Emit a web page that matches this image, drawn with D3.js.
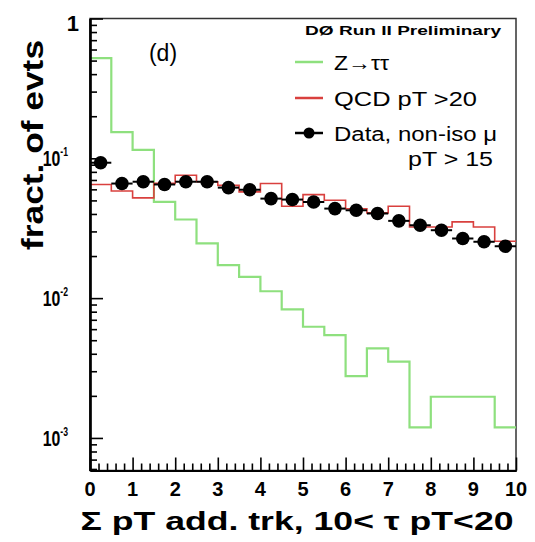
<!DOCTYPE html>
<html><head><meta charset="utf-8">
<script src="https://cdn.jsdelivr.net/npm/d3@7/dist/d3.min.js"></script>
<style>body{margin:0;background:#fff}svg{display:block}text{font-family:"Liberation Sans",Arial,sans-serif;font-weight:bold}</style>
</head><body>
<svg id="c" width="535" height="542"></svg>
<script>
const binEdges = [0,0.5,1,1.5,2,2.5,3,3.5,4,4.5,5,5.5,6,6.5,7,7.5,8,8.5,9,9.5,10];
const zttValues = [0.521,0.154,0.115,0.0488,0.0365,0.0246,0.0172,0.0142,0.0112,0.0083,0.00624,0.00544,0.00277,0.00437,0.00351,0.00119,0.00197,0.00197,0.00197,0.00119];
const qcdValues = [0.065,0.0584,0.0521,0.0662,0.0756,0.068,0.064,0.0575,0.066,0.0454,0.055,0.0501,0.0436,0.0407,0.0454,0.0323,0.0323,0.0351,0.0323,0.0255];
const dataValues = [0.093,0.066,0.068,0.065,0.068,0.068,0.0617,0.0596,0.0515,0.0507,0.0487,0.0437,0.0425,0.0403,0.0357,0.0332,0.0306,0.0267,0.0253,0.0235];
const xTickLabels = ["0","1","2","3","4","5","6","7","8","9","10"];
const yMajor = [1,0.1,0.01,0.001];
const yMajorLabels = [["1",""],["10","-1"],["10","-2"],["10","-3"]];
const legendLabels = ["Z\u2192\u03c4\u03c4","QCD pT >20","Data, non-iso \u03bc","pT > 15"];

const svg = d3.select("#c");
const L=90,R=516,T=18.5,B=470.5;
const x = d3.scaleLinear([0,10],[L,R]);
const y = d3.scaleLog([5.85e-4,1],[B,T]);

// frame
svg.append("rect").attr("x",L).attr("y",T).attr("width",R-L).attr("height",B-T)
  .attr("fill","none").attr("stroke","#333").attr("stroke-width",1.5);

// histograms
function stepPts(vals){ const p = vals.map((v,i)=>[binEdges[i],v]); p.push([binEdges[binEdges.length-1],vals[vals.length-1]]); return p; }
const line = d3.line().x(d=>x(d[0])).y(d=>y(d[1])).curve(d3.curveStepAfter);
svg.append("path").attr("d",line(stepPts(zttValues))).attr("fill","none").attr("stroke","#8ee07e").attr("stroke-width",2.2);
svg.append("path").attr("d",line(stepPts(qcdValues))).attr("fill","none").attr("stroke","#d9403e").attr("stroke-width",1.6);

// data points
const g = svg.append("g");
dataValues.forEach((v,i)=>{
  const c=(binEdges[i]+binEdges[i+1])/2;
  g.append("line").attr("x1",x(binEdges[i])).attr("x2",x(binEdges[i+1])).attr("y1",y(v)).attr("y2",y(v)).attr("stroke","#000").attr("stroke-width",2);
  g.append("circle").attr("cx",x(c)).attr("cy",y(v)).attr("r",6.8).attr("fill","#000");
});

// y axis ticks
const yMinor=[];
[1e-4,1e-3,1e-2,1e-1].forEach(d=>{for(let k=2;k<=9;k++){const v=d*k; if(v>=5.85e-4 && v<1) yMinor.push(v);}});
const yAxMaj = d3.axisLeft(y).tickValues(yMajor).tickSizeInner(-13).tickSizeOuter(0).tickFormat("");
const yAxMin = d3.axisLeft(y).tickValues(yMinor).tickSizeInner(-7).tickSizeOuter(0).tickFormat("");
[yAxMaj,yAxMin].forEach(a=>{const ga=svg.append("g").attr("transform",`translate(${L},0)`).call(a);
  ga.select(".domain").attr("stroke","#000").attr("stroke-width",2.2); ga.selectAll(".tick line").attr("stroke","#000").attr("stroke-width",1.6);});

// x axis ticks
const xMajor=d3.range(0,11);
const xMinor=[]; for(let i=0;i<50;i++){ if(i%5) xMinor.push(i/5);} 
const xAxMaj = d3.axisBottom(x).tickValues(xMajor).tickSizeInner(-13).tickSizeOuter(0).tickFormat("");
const xAxMin = d3.axisBottom(x).tickValues(xMinor).tickSizeInner(-7).tickSizeOuter(0).tickFormat("");
[xAxMaj,xAxMin].forEach(a=>{const ga=svg.append("g").attr("transform",`translate(0,${B})`).call(a);
  ga.select(".domain").attr("stroke","#000").attr("stroke-width",2.2); ga.selectAll(".tick line").attr("stroke","#000").attr("stroke-width",1.6);});

// x tick labels
xMajor.forEach((v,i)=>{
  svg.append("text").attr("x",x(v)).attr("y",496).attr("text-anchor","middle").attr("font-size",20).text(xTickLabels[i]);
});
// y tick labels
yMajor.forEach((v,i)=>{
  const [base,sup]=yMajorLabels[i];
  if(!sup){ svg.append("text").attr("x",79).attr("y",y(v)+12).attr("text-anchor","end").attr("font-size",22).text(base); }
  else {
    const t=svg.append("text").attr("transform",`translate(68,${y(v)+8}) scale(0.72,1)`).attr("text-anchor","end").attr("font-size",22);
    t.append("tspan").text(base);
    t.append("tspan").attr("font-size",12).attr("dy",-10).text(sup);
  }
});

// axis titles
svg.append("text").attr("x",297).attr("y",530).attr("text-anchor","middle").attr("font-size",26)
  .attr("textLength",433).attr("lengthAdjust","spacingAndGlyphs").text("\u03a3 pT add. trk, 10< \u03c4 pT<20");
svg.append("text").attr("transform","translate(43,145) rotate(-90)").attr("text-anchor","middle").attr("font-size",30)
  .attr("textLength",210).attr("lengthAdjust","spacingAndGlyphs").text("fract. of evts");

// labels
svg.append("text").attr("x",501).attr("y",35).attr("text-anchor","end").attr("font-size",12.5)
  .attr("textLength",196).attr("lengthAdjust","spacingAndGlyphs").text("D\u00d8 Run II Preliminary");
svg.append("text").attr("x",163).attr("y",61).attr("text-anchor","middle").attr("font-size",23).style("font-weight","normal").text("(d)");

// legend
const lx1=295,lx2=323,tx=334;
const rows=[62,98,133];
svg.append("line").attr("x1",lx1).attr("x2",lx2).attr("y1",rows[0]).attr("y2",rows[0]).attr("stroke","#8ee07e").attr("stroke-width",2.5);
svg.append("line").attr("x1",lx1).attr("x2",lx2).attr("y1",rows[1]).attr("y2",rows[1]).attr("stroke","#d9403e").attr("stroke-width",2.5);
svg.append("line").attr("x1",lx1).attr("x2",lx2).attr("y1",rows[2]).attr("y2",rows[2]).attr("stroke","#000").attr("stroke-width",2.5);
svg.append("circle").attr("cx",(lx1+lx2)/2).attr("cy",rows[2]).attr("r",5.5).attr("fill","#000");
const lt=(xx,yy,s,len)=>svg.append("text").attr("x",xx).attr("y",yy).attr("font-size",20).style("font-weight","normal")
  .attr("textLength",len).attr("lengthAdjust","spacingAndGlyphs").text(s);
lt(tx,70,legendLabels[0],55);
lt(tx,106,legendLabels[1],143);
lt(tx,141,legendLabels[2],163);
lt(408,166,legendLabels[3],85);
</script>
</body></html>
